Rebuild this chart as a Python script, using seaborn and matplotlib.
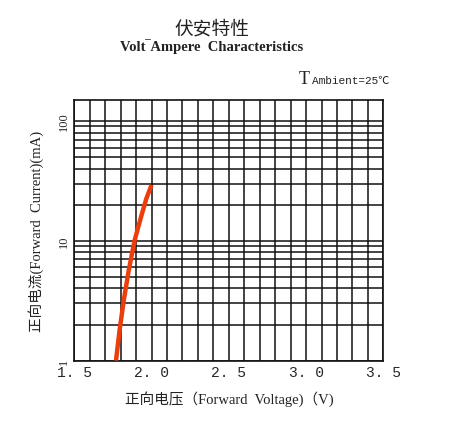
import numpy as np
import pandas as pd
import matplotlib
matplotlib.use("Agg")
import matplotlib.pyplot as plt
import seaborn as sns
from matplotlib.ticker import FixedLocator, LogLocator, NullFormatter

# values
voltage = [1.770, 1.793, 1.820, 1.852, 1.890, 1.932, 1.966, 2.000]
current = [1.00, 1.78, 3.16, 5.62, 10.0, 15.8, 22.4, 29.2]
x_ticks = [1.5, 2.0, 2.5, 3.0, 3.5]
x_tick_labels = ["1. 5", "2. 0", "2. 5", "3. 0", "3. 5"]
y_ticks = [1, 10, 100]
y_tick_labels = ["1", "10", "100"]

df = pd.DataFrame({"V": voltage, "I": current})

sns.set_style("white")
plt.rcParams['font.family'] = ['Liberation Serif', 'Noto Sans CJK SC', 'DejaVu Sans']

fig = plt.figure(figsize=(4.5, 4.31), dpi=100)
ax = fig.add_axes([0.165, 0.161, 0.687, 0.605])

sns.lineplot(data=df, x="V", y="I", ax=ax, color="#ec3d0c", linewidth=3.2,
             solid_capstyle="butt", solid_joinstyle="round", zorder=3)

ax.set_yscale("log")
ax.set_xlim(1.5, 3.5)
ax.set_ylim(1, 150)

ax.xaxis.set_major_locator(FixedLocator(x_ticks))
ax.xaxis.set_minor_locator(FixedLocator(np.round(np.arange(1.5, 3.51, 0.1), 2)))
ax.set_xticklabels(x_tick_labels, family=['Liberation Mono'], fontsize=10.5)
ax.yaxis.set_major_locator(FixedLocator(y_ticks))
ax.yaxis.set_minor_locator(LogLocator(base=10, subs=np.arange(2, 10)))
ax.yaxis.set_minor_formatter(NullFormatter())
ax.set_yticklabels(y_tick_labels, rotation=90, va="center", family=['Liberation Serif'], fontsize=9)

ax.grid(True, which="both", color="#111111", linewidth=1.1)
for s in ax.spines.values():
    s.set_color("#111111")
    s.set_linewidth(1.2)
ax.tick_params(which="both", length=0, pad=3)

ax.set_xlabel("正向电压（Forward  Voltage)（V)", fontsize=10.5, color="#222222", labelpad=8)
ax.set_ylabel("正向电流(Forward  Current)(mA)", fontsize=10.5, color="#222222", labelpad=10)

fig.text(0.471, 0.933, "伏安特性", ha="center", va="center", fontsize=13.5,
         family=['Noto Sans CJK SC'], color="#222222")
fig.text(0.471, 0.893, "Volt\u203eAmpere  Characteristics", ha="center", va="center",
         fontsize=10.5, fontweight="bold", color="#222222")
fig.text(0.664, 0.815, "T", ha="left", va="center", fontsize=13, color="#222222")
fig.text(0.693, 0.812, "Ambient=25℃", ha="left", va="center", fontsize=8,
         family=['Liberation Mono', 'Noto Sans CJK SC'], color="#222222")

fig.savefig("out.png", dpi=100, facecolor="white")
